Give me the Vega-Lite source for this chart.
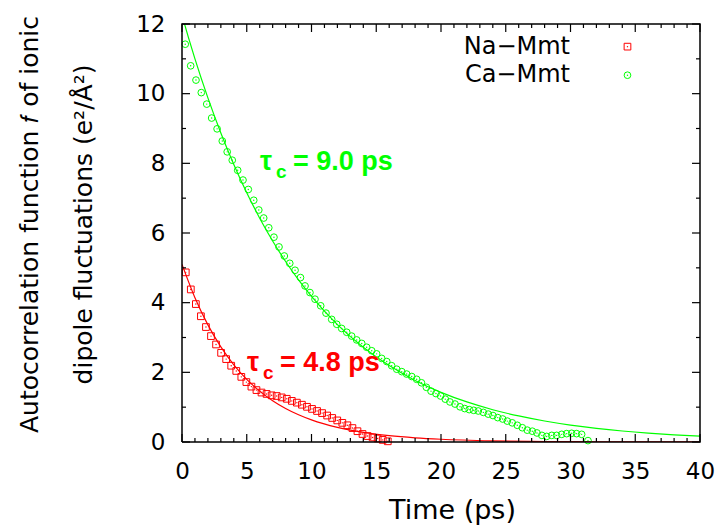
{
  "$schema": "https://vega.github.io/schema/vega-lite/v6.json",
  "autosize": "none",
  "width": 518,
  "height": 418,
  "padding": {"left": 182, "top": 24, "right": 20, "bottom": 86},
  "config": {"font": "DejaVu Sans", "view": {"stroke": null}},
  "datasets": {
    "points": [
      {"series": "Na−Mmt", "t": 0.29, "v": 4.87}, {"series": "Na−Mmt", "t": 0.68, "v": 4.38},
      {"series": "Na−Mmt", "t": 1.07, "v": 3.96}, {"series": "Na−Mmt", "t": 1.46, "v": 3.61},
      {"series": "Na−Mmt", "t": 1.85, "v": 3.30}, {"series": "Na−Mmt", "t": 2.24, "v": 3.04},
      {"series": "Na−Mmt", "t": 2.63, "v": 2.80}, {"series": "Na−Mmt", "t": 3.02, "v": 2.56},
      {"series": "Na−Mmt", "t": 3.41, "v": 2.38}, {"series": "Na−Mmt", "t": 3.80, "v": 2.19},
      {"series": "Na−Mmt", "t": 4.19, "v": 2.04}, {"series": "Na−Mmt", "t": 4.58, "v": 1.87},
      {"series": "Na−Mmt", "t": 4.97, "v": 1.72}, {"series": "Na−Mmt", "t": 5.36, "v": 1.59},
      {"series": "Na−Mmt", "t": 5.75, "v": 1.49}, {"series": "Na−Mmt", "t": 6.14, "v": 1.42},
      {"series": "Na−Mmt", "t": 6.53, "v": 1.38}, {"series": "Na−Mmt", "t": 6.92, "v": 1.34},
      {"series": "Na−Mmt", "t": 7.31, "v": 1.32}, {"series": "Na−Mmt", "t": 7.70, "v": 1.28},
      {"series": "Na−Mmt", "t": 8.09, "v": 1.24}, {"series": "Na−Mmt", "t": 8.48, "v": 1.18},
      {"series": "Na−Mmt", "t": 8.87, "v": 1.13}, {"series": "Na−Mmt", "t": 9.26, "v": 1.07},
      {"series": "Na−Mmt", "t": 9.65, "v": 1.01}, {"series": "Na−Mmt", "t": 10.04, "v": 0.95},
      {"series": "Na−Mmt", "t": 10.43, "v": 0.89}, {"series": "Na−Mmt", "t": 10.82, "v": 0.83},
      {"series": "Na−Mmt", "t": 11.21, "v": 0.76}, {"series": "Na−Mmt", "t": 11.60, "v": 0.69},
      {"series": "Na−Mmt", "t": 11.99, "v": 0.62}, {"series": "Na−Mmt", "t": 12.38, "v": 0.55},
      {"series": "Na−Mmt", "t": 12.77, "v": 0.48}, {"series": "Na−Mmt", "t": 13.16, "v": 0.40},
      {"series": "Na−Mmt", "t": 13.55, "v": 0.31}, {"series": "Na−Mmt", "t": 13.94, "v": 0.23},
      {"series": "Na−Mmt", "t": 14.33, "v": 0.17}, {"series": "Na−Mmt", "t": 14.72, "v": 0.13},
      {"series": "Na−Mmt", "t": 15.11, "v": 0.10}, {"series": "Na−Mmt", "t": 15.50, "v": 0.06},
      {"series": "Na−Mmt", "t": 15.89, "v": 0.02},
      {"series": "Ca−Mmt", "t": 0.25, "v": 11.42}, {"series": "Ca−Mmt", "t": 0.67, "v": 10.80},
      {"series": "Ca−Mmt", "t": 1.08, "v": 10.39}, {"series": "Ca−Mmt", "t": 1.49, "v": 10.03},
      {"series": "Ca−Mmt", "t": 1.91, "v": 9.70}, {"series": "Ca−Mmt", "t": 2.29, "v": 9.30},
      {"series": "Ca−Mmt", "t": 2.71, "v": 8.99}, {"series": "Ca−Mmt", "t": 3.11, "v": 8.64},
      {"series": "Ca−Mmt", "t": 3.49, "v": 8.33}, {"series": "Ca−Mmt", "t": 3.88, "v": 8.09},
      {"series": "Ca−Mmt", "t": 4.30, "v": 7.80}, {"series": "Ca−Mmt", "t": 4.71, "v": 7.52},
      {"series": "Ca−Mmt", "t": 5.12, "v": 7.25}, {"series": "Ca−Mmt", "t": 5.54, "v": 6.94},
      {"series": "Ca−Mmt", "t": 5.93, "v": 6.66}, {"series": "Ca−Mmt", "t": 6.31, "v": 6.43},
      {"series": "Ca−Mmt", "t": 6.70, "v": 6.15}, {"series": "Ca−Mmt", "t": 7.10, "v": 5.88},
      {"series": "Ca−Mmt", "t": 7.49, "v": 5.60}, {"series": "Ca−Mmt", "t": 7.90, "v": 5.34},
      {"series": "Ca−Mmt", "t": 8.32, "v": 5.13}, {"series": "Ca−Mmt", "t": 8.73, "v": 4.93},
      {"series": "Ca−Mmt", "t": 9.15, "v": 4.72}, {"series": "Ca−Mmt", "t": 9.50, "v": 4.48},
      {"series": "Ca−Mmt", "t": 9.88, "v": 4.29}, {"series": "Ca−Mmt", "t": 10.27, "v": 4.10},
      {"series": "Ca−Mmt", "t": 10.71, "v": 3.91}, {"series": "Ca−Mmt", "t": 11.12, "v": 3.70},
      {"series": "Ca−Mmt", "t": 11.56, "v": 3.52}, {"series": "Ca−Mmt", "t": 11.95, "v": 3.38},
      {"series": "Ca−Mmt", "t": 12.33, "v": 3.26}, {"series": "Ca−Mmt", "t": 12.72, "v": 3.15},
      {"series": "Ca−Mmt", "t": 13.10, "v": 3.04}, {"series": "Ca−Mmt", "t": 13.49, "v": 2.93},
      {"series": "Ca−Mmt", "t": 13.88, "v": 2.83}, {"series": "Ca−Mmt", "t": 14.26, "v": 2.72},
      {"series": "Ca−Mmt", "t": 14.65, "v": 2.62}, {"series": "Ca−Mmt", "t": 15.03, "v": 2.53},
      {"series": "Ca−Mmt", "t": 15.42, "v": 2.40}, {"series": "Ca−Mmt", "t": 15.81, "v": 2.31},
      {"series": "Ca−Mmt", "t": 16.19, "v": 2.19}, {"series": "Ca−Mmt", "t": 16.58, "v": 2.09},
      {"series": "Ca−Mmt", "t": 16.97, "v": 2.02}, {"series": "Ca−Mmt", "t": 17.35, "v": 1.95},
      {"series": "Ca−Mmt", "t": 17.74, "v": 1.88}, {"series": "Ca−Mmt", "t": 18.12, "v": 1.80},
      {"series": "Ca−Mmt", "t": 18.49, "v": 1.70}, {"series": "Ca−Mmt", "t": 18.87, "v": 1.57},
      {"series": "Ca−Mmt", "t": 19.23, "v": 1.46}, {"series": "Ca−Mmt", "t": 19.61, "v": 1.39},
      {"series": "Ca−Mmt", "t": 19.97, "v": 1.32}, {"series": "Ca−Mmt", "t": 20.33, "v": 1.23},
      {"series": "Ca−Mmt", "t": 20.69, "v": 1.15}, {"series": "Ca−Mmt", "t": 21.08, "v": 1.09},
      {"series": "Ca−Mmt", "t": 21.47, "v": 1.01}, {"series": "Ca−Mmt", "t": 21.83, "v": 0.96},
      {"series": "Ca−Mmt", "t": 22.18, "v": 0.93}, {"series": "Ca−Mmt", "t": 22.52, "v": 0.91},
      {"series": "Ca−Mmt", "t": 22.88, "v": 0.89}, {"series": "Ca−Mmt", "t": 23.27, "v": 0.85},
      {"series": "Ca−Mmt", "t": 23.65, "v": 0.80}, {"series": "Ca−Mmt", "t": 24.01, "v": 0.76},
      {"series": "Ca−Mmt", "t": 24.38, "v": 0.70}, {"series": "Ca−Mmt", "t": 24.76, "v": 0.66},
      {"series": "Ca−Mmt", "t": 25.12, "v": 0.60}, {"series": "Ca−Mmt", "t": 25.50, "v": 0.55},
      {"series": "Ca−Mmt", "t": 25.89, "v": 0.48}, {"series": "Ca−Mmt", "t": 26.28, "v": 0.41},
      {"series": "Ca−Mmt", "t": 26.66, "v": 0.34}, {"series": "Ca−Mmt", "t": 27.05, "v": 0.31},
      {"series": "Ca−Mmt", "t": 27.41, "v": 0.26}, {"series": "Ca−Mmt", "t": 27.79, "v": 0.19},
      {"series": "Ca−Mmt", "t": 28.16, "v": 0.16}, {"series": "Ca−Mmt", "t": 28.55, "v": 0.19},
      {"series": "Ca−Mmt", "t": 28.93, "v": 0.19}, {"series": "Ca−Mmt", "t": 29.32, "v": 0.22},
      {"series": "Ca−Mmt", "t": 29.70, "v": 0.24}, {"series": "Ca−Mmt", "t": 30.09, "v": 0.25},
      {"series": "Ca−Mmt", "t": 30.47, "v": 0.24}, {"series": "Ca−Mmt", "t": 30.86, "v": 0.22},
      {"series": "Ca−Mmt", "t": 31.35, "v": 0.04}
    ],
    "fits": [
      {"series": "Na−Mmt", "t": 0, "v": 5.1}, {"series": "Na−Mmt", "t": 1, "v": 4.141},
      {"series": "Na−Mmt", "t": 2, "v": 3.362}, {"series": "Na−Mmt", "t": 3, "v": 2.730},
      {"series": "Na−Mmt", "t": 4, "v": 2.217}, {"series": "Na−Mmt", "t": 5, "v": 1.800},
      {"series": "Na−Mmt", "t": 6, "v": 1.461}, {"series": "Na−Mmt", "t": 7, "v": 1.186},
      {"series": "Na−Mmt", "t": 8, "v": 0.963}, {"series": "Na−Mmt", "t": 9, "v": 0.782},
      {"series": "Na−Mmt", "t": 10, "v": 0.635}, {"series": "Na−Mmt", "t": 12, "v": 0.419},
      {"series": "Na−Mmt", "t": 14, "v": 0.276}, {"series": "Na−Mmt", "t": 16, "v": 0.182},
      {"series": "Na−Mmt", "t": 18, "v": 0.120}, {"series": "Na−Mmt", "t": 20, "v": 0.079},
      {"series": "Na−Mmt", "t": 24, "v": 0.034}, {"series": "Na−Mmt", "t": 28, "v": 0.015},
      {"series": "Na−Mmt", "t": 32, "v": 0.0065}, {"series": "Na−Mmt", "t": 36, "v": 0.003},
      {"series": "Na−Mmt", "t": 40, "v": 0.001},
      {"series": "Ca−Mmt", "t": 0, "v": 12.25}, {"series": "Ca−Mmt", "t": 0.5, "v": 11.61},
      {"series": "Ca−Mmt", "t": 1, "v": 11.00}, {"series": "Ca−Mmt", "t": 2, "v": 9.880},
      {"series": "Ca−Mmt", "t": 3, "v": 8.873}, {"series": "Ca−Mmt", "t": 4, "v": 7.968},
      {"series": "Ca−Mmt", "t": 5, "v": 7.156}, {"series": "Ca−Mmt", "t": 6, "v": 6.426},
      {"series": "Ca−Mmt", "t": 7, "v": 5.771}, {"series": "Ca−Mmt", "t": 8, "v": 5.183},
      {"series": "Ca−Mmt", "t": 9, "v": 4.654}, {"series": "Ca−Mmt", "t": 10, "v": 4.180},
      {"series": "Ca−Mmt", "t": 12, "v": 3.371}, {"series": "Ca−Mmt", "t": 14, "v": 2.719},
      {"series": "Ca−Mmt", "t": 16, "v": 2.193}, {"series": "Ca−Mmt", "t": 18, "v": 1.768},
      {"series": "Ca−Mmt", "t": 20, "v": 1.426}, {"series": "Ca−Mmt", "t": 22, "v": 1.150},
      {"series": "Ca−Mmt", "t": 24, "v": 0.927}, {"series": "Ca−Mmt", "t": 26, "v": 0.748},
      {"series": "Ca−Mmt", "t": 28, "v": 0.603}, {"series": "Ca−Mmt", "t": 30, "v": 0.486},
      {"series": "Ca−Mmt", "t": 32, "v": 0.392}, {"series": "Ca−Mmt", "t": 34, "v": 0.316},
      {"series": "Ca−Mmt", "t": 36, "v": 0.255}, {"series": "Ca−Mmt", "t": 38, "v": 0.206},
      {"series": "Ca−Mmt", "t": 40, "v": 0.166}
    ],
    "frame": [
      {"o": 1, "x": 0, "y": 0}, {"o": 2, "x": 40, "y": 0}, {"o": 3, "x": 40, "y": 12},
      {"o": 4, "x": 0, "y": 12}, {"o": 5, "x": 0, "y": 0}
    ],
    "xticks": [
      {"x": 0, "k": "m"}, {"x": 1, "k": "n"}, {"x": 2, "k": "n"}, {"x": 3, "k": "n"}, {"x": 4, "k": "n"},
      {"x": 5, "k": "m"}, {"x": 6, "k": "n"}, {"x": 7, "k": "n"}, {"x": 8, "k": "n"}, {"x": 9, "k": "n"},
      {"x": 10, "k": "m"}, {"x": 11, "k": "n"}, {"x": 12, "k": "n"}, {"x": 13, "k": "n"}, {"x": 14, "k": "n"},
      {"x": 15, "k": "m"}, {"x": 16, "k": "n"}, {"x": 17, "k": "n"}, {"x": 18, "k": "n"}, {"x": 19, "k": "n"},
      {"x": 20, "k": "m"}, {"x": 21, "k": "n"}, {"x": 22, "k": "n"}, {"x": 23, "k": "n"}, {"x": 24, "k": "n"},
      {"x": 25, "k": "m"}, {"x": 26, "k": "n"}, {"x": 27, "k": "n"}, {"x": 28, "k": "n"}, {"x": 29, "k": "n"},
      {"x": 30, "k": "m"}, {"x": 31, "k": "n"}, {"x": 32, "k": "n"}, {"x": 33, "k": "n"}, {"x": 34, "k": "n"},
      {"x": 35, "k": "m"}, {"x": 36, "k": "n"}, {"x": 37, "k": "n"}, {"x": 38, "k": "n"}, {"x": 39, "k": "n"},
      {"x": 40, "k": "m"}
    ],
    "yticks": [
      {"y": 0, "k": "m"}, {"y": 1, "k": "n"}, {"y": 2, "k": "m"}, {"y": 3, "k": "n"},
      {"y": 4, "k": "m"}, {"y": 5, "k": "n"}, {"y": 6, "k": "m"}, {"y": 7, "k": "n"},
      {"y": 8, "k": "m"}, {"y": 9, "k": "n"}, {"y": 10, "k": "m"}, {"y": 11, "k": "n"},
      {"y": 12, "k": "m"}
    ],
    "legend": [
      {"series": "Na−Mmt", "t_text": 29.96, "t_sym": 34.4, "v": 11.35},
      {"series": "Ca−Mmt", "t_text": 29.96, "t_sym": 34.4, "v": 10.53}
    ],
    "annot": [
      {"series": "Ca−Mmt", "t": 6.02, "v": 7.81, "txt": "τ"},
      {"series": "Ca−Mmt", "t": 8.57, "v": 7.81, "txt": "= 9.0 ps"},
      {"series": "Na−Mmt", "t": 5.02, "v": 2.03, "txt": "τ"},
      {"series": "Na−Mmt", "t": 7.57, "v": 2.03, "txt": "= 4.8 ps"}
    ],
    "annot_sub": [
      {"series": "Ca−Mmt", "t": 7.26, "v": 7.58, "txt": "c"},
      {"series": "Na−Mmt", "t": 6.25, "v": 1.80, "txt": "c"}
    ]
  },
  "layer": [
    {
      "data": {"name": "fits"},
      "mark": {"type": "line", "clip": true, "strokeWidth": 1.2, "interpolate": "monotone"},
      "encoding": {
        "x": {"field": "t", "type": "quantitative",
          "scale": {"domain": [0, 40], "nice": false, "zero": false},
          "axis": {"orient": "bottom", "values": [0, 5, 10, 15, 20, 25, 30, 35, 40], "title": "Time (ps)",
            "titleFontSize": 27, "titleFontWeight": "normal", "titleColor": "black", "titlePadding": 14, "titleX": 270,
            "labelFontSize": 23, "labelColor": "black", "labelPadding": 26, "labelFlush": false, "labelOverlap": false,
            "tickSize": -8, "tickOpacity": 0, "domain": false, "grid": false}},
        "y": {"field": "v", "type": "quantitative",
          "scale": {"domain": [0, 12], "nice": false, "zero": false},
          "axis": {"orient": "left", "values": [0, 2, 4, 6, 8, 10, 12],
            "title": ["Autocorrelation function 𝑓 of ionic", "dipole fluctuations (e²/Å²)"],
            "titleFontSize": 25, "titleFontWeight": "normal", "titleColor": "black",
            "titleAngle": -90, "titleX": -145, "titleY": 200, "titleAlign": "center", "titleBaseline": "alphabetic", "titleLineHeight": 54,
            "labelFontSize": 23, "labelColor": "black", "labelPadding": 25, "labelFlush": false, "labelOverlap": false,
            "tickSize": -8, "tickOpacity": 0, "domain": false, "grid": false}},
        "color": {"field": "series", "type": "nominal",
          "scale": {"domain": ["Na−Mmt", "Ca−Mmt", "axis"], "range": ["#ff0000", "#00ff00", "#000000"]}, "legend": null},
        "detail": {"field": "series"}
      }
    },
    {
      "data": {"name": "points"},
      "mark": {"type": "point", "filled": false, "size": 45, "strokeWidth": 1, "opacity": 1},
      "encoding": {
        "x": {"field": "t", "type": "quantitative"},
        "y": {"field": "v", "type": "quantitative"},
        "color": {"field": "series", "type": "nominal", "legend": null},
        "shape": {"field": "series", "type": "nominal",
          "scale": {"domain": ["Na−Mmt", "Ca−Mmt"], "range": ["square", "circle"]}, "legend": null}
      }
    },
    {
      "data": {"name": "points"},
      "mark": {"type": "point", "filled": true, "size": 2, "opacity": 1},
      "encoding": {
        "x": {"field": "t", "type": "quantitative"},
        "y": {"field": "v", "type": "quantitative"},
        "color": {"field": "series", "type": "nominal", "legend": null}
      }
    },
    {
      "data": {"name": "xticks"},
      "mark": {"type": "point", "shape": "M0,0L0,-1", "filled": false, "strokeWidth": 1.2, "opacity": 1},
      "encoding": {
        "x": {"field": "x", "type": "quantitative"},
        "y": {"datum": 0, "type": "quantitative"},
        "color": {"datum": "axis", "type": "nominal", "legend": null},
        "size": {"field": "k", "type": "ordinal", "scale": {"domain": ["m", "n"], "range": [256, 64]}, "legend": null}
      }
    },
    {
      "data": {"name": "xticks"},
      "mark": {"type": "point", "shape": "M0,0L0,1", "filled": false, "strokeWidth": 1.2, "opacity": 1},
      "encoding": {
        "x": {"field": "x", "type": "quantitative"},
        "y": {"datum": 12, "type": "quantitative"},
        "color": {"datum": "axis", "type": "nominal", "legend": null},
        "size": {"field": "k", "type": "ordinal", "legend": null}
      }
    },
    {
      "data": {"name": "yticks"},
      "mark": {"type": "point", "shape": "M0,0L1,0", "filled": false, "strokeWidth": 1.2, "opacity": 1},
      "encoding": {
        "x": {"datum": 0, "type": "quantitative"},
        "y": {"field": "y", "type": "quantitative"},
        "color": {"datum": "axis", "type": "nominal", "legend": null},
        "size": {"field": "k", "type": "ordinal", "legend": null}
      }
    },
    {
      "data": {"name": "yticks"},
      "mark": {"type": "point", "shape": "M0,0L-1,0", "filled": false, "strokeWidth": 1.2, "opacity": 1},
      "encoding": {
        "x": {"datum": 40, "type": "quantitative"},
        "y": {"field": "y", "type": "quantitative"},
        "color": {"datum": "axis", "type": "nominal", "legend": null},
        "size": {"field": "k", "type": "ordinal", "legend": null}
      }
    },
    {
      "data": {"name": "frame"},
      "mark": {"type": "line", "strokeWidth": 1.5},
      "encoding": {
        "x": {"field": "x", "type": "quantitative"},
        "y": {"field": "y", "type": "quantitative"},
        "color": {"datum": "axis", "type": "nominal", "legend": null},
        "order": {"field": "o"}
      }
    },
    {
      "data": {"name": "legend"},
      "mark": {"type": "text", "align": "right", "baseline": "middle", "fontSize": 24, "font": "DejaVu Sans", "color": "black"},
      "encoding": {
        "x": {"field": "t_text", "type": "quantitative"},
        "y": {"field": "v", "type": "quantitative"},
        "text": {"field": "series"}
      }
    },
    {
      "data": {"name": "legend"},
      "mark": {"type": "point", "filled": false, "size": 45, "strokeWidth": 1, "opacity": 1},
      "encoding": {
        "x": {"field": "t_sym", "type": "quantitative"},
        "y": {"field": "v", "type": "quantitative"},
        "color": {"field": "series", "type": "nominal", "legend": null},
        "shape": {"field": "series", "type": "nominal", "legend": null}
      }
    },
    {
      "data": {"name": "legend"},
      "mark": {"type": "point", "filled": true, "size": 2, "opacity": 1},
      "encoding": {
        "x": {"field": "t_sym", "type": "quantitative"},
        "y": {"field": "v", "type": "quantitative"},
        "color": {"field": "series", "type": "nominal", "legend": null}
      }
    },
    {
      "data": {"name": "annot"},
      "mark": {"type": "text", "align": "left", "baseline": "alphabetic", "fontSize": 27, "font": "Liberation Sans", "fontWeight": "bold"},
      "encoding": {
        "x": {"field": "t", "type": "quantitative"},
        "y": {"field": "v", "type": "quantitative"},
        "color": {"field": "series", "type": "nominal", "legend": null},
        "text": {"field": "txt"}
      }
    },
    {
      "data": {"name": "annot_sub"},
      "mark": {"type": "text", "align": "left", "baseline": "alphabetic", "fontSize": 19, "font": "Liberation Sans", "fontWeight": "bold"},
      "encoding": {
        "x": {"field": "t", "type": "quantitative"},
        "y": {"field": "v", "type": "quantitative"},
        "color": {"field": "series", "type": "nominal", "legend": null},
        "text": {"field": "txt"}
      }
    }
  ]
}
